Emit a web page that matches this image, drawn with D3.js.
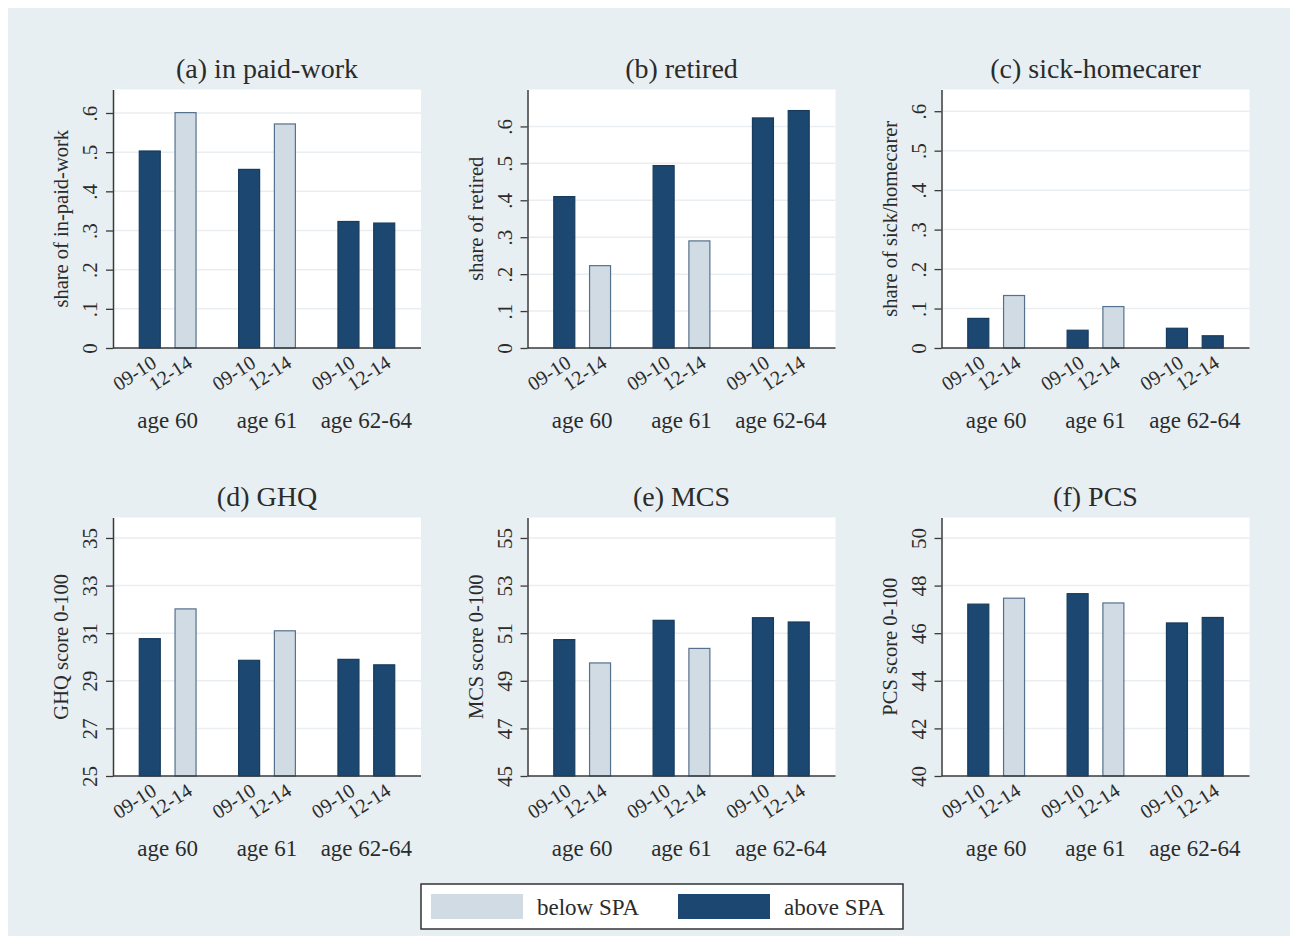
<!DOCTYPE html>
<html>
<head>
<meta charset="utf-8">
<script src="https://cdn.jsdelivr.net/npm/d3@7"></script>
<style>
  body { margin: 0; background: #fff; }
  svg { display: block; }
  text { font-family: "Liberation Serif", "Times New Roman", serif; fill: #2b2b2b; }
</style>
</head>
<body>
<div id="chart"></div>
<script>
// categories
const ages = ["age 60", "age 61", "age 62-64"];
const periods = ["09-10", "12-14"];
// which bars are below / above state pension age
const spaStatus = [["above", "below"], ["above", "below"], ["above", "above"]];

// values, [age][period]
const paidWork = [[0.503, 0.601], [0.456, 0.572], [0.323, 0.319]];
const retired  = [[0.410, 0.223], [0.494, 0.290], [0.623, 0.643]];
const sickCare = [[0.075, 0.133], [0.045, 0.105], [0.050, 0.031]];
const ghq = [[30.77, 32.02], [29.86, 31.10], [29.90, 29.67]];
const mcs = [[50.73, 49.75], [51.54, 50.36], [51.65, 51.47]];
const pcs = [[47.22, 47.47], [47.66, 47.27], [46.43, 46.66]];

const panelTitles = ["(a) in paid-work", "(b) retired", "(c) sick-homecarer", "(d) GHQ", "(e) MCS", "(f) PCS"];
const yTitles = ["share of in-paid-work", "share of retired", "share of sick/homecarer",
                 "GHQ score 0-100", "MCS score 0-100", "PCS score 0-100"];

// tick labels
const shareTicks = [0, 0.1, 0.2, 0.3, 0.4, 0.5, 0.6];
const ghqTicks = [25, 27, 29, 31, 33, 35];
const mcsTicks = [45, 47, 49, 51, 53, 55];
const pcsTicks = [40, 42, 44, 46, 48, 50];
const yMax = [0.66, 0.70, 0.655, 35.86, 55.86, 50.86];

const legendLabels = ["below SPA", "above SPA"];

const shareFmt = d => d === 0 ? "0" : d3.format(".1f")(d).replace(/^0/, "");
const intFmt = d3.format("d");

const panels = [
  {title: panelTitles[0], ylab: yTitles[0], vals: paidWork, ticks: shareTicks, max: yMax[0], fmt: shareFmt},
  {title: panelTitles[1], ylab: yTitles[1], vals: retired,  ticks: shareTicks, max: yMax[1], fmt: shareFmt},
  {title: panelTitles[2], ylab: yTitles[2], vals: sickCare, ticks: shareTicks, max: yMax[2], fmt: shareFmt},
  {title: panelTitles[3], ylab: yTitles[3], vals: ghq, ticks: ghqTicks, max: yMax[3], fmt: intFmt},
  {title: panelTitles[4], ylab: yTitles[4], vals: mcs, ticks: mcsTicks, max: yMax[4], fmt: intFmt},
  {title: panelTitles[5], ylab: yTitles[5], vals: pcs, ticks: pcsTicks, max: yMax[5], fmt: intFmt}
];

const W = 1290, H = 936;
const colLeft = [113, 527.5, 941.5];
const rowTop = [89.5, 517.5];
const pw = 308, ph = 258.5;

const fillColor = {above: "#1b4770", below: "#d1dbe4"};
const strokeColor = {above: "#173c5e", below: "#55718c"};
const axisColor = "#3a3a3a";

const svg = d3.select("#chart")
  .append("svg")
  .attr("width", W)
  .attr("height", H);

svg.append("rect")
  .attr("x", 8).attr("y", 8)
  .attr("width", W - 8).attr("height", H - 8)
  .attr("fill", "#e8eff2");

panels.forEach((p, i) => {
  const g = svg.append("g")
    .attr("transform", `translate(${colLeft[i % 3]},${rowTop[Math.floor(i / 3)]})`);

  const x0 = d3.scaleBand().domain(ages).range([5, 303]);
  const x1 = d3.scaleBand().domain(periods)
    .range([0, x0.bandwidth()])
    .paddingInner(0.413)
    .paddingOuter(0.595);
  const y = d3.scaleLinear().domain([p.ticks[0], p.max]).range([ph, 0]);

  // plot region
  g.append("rect")
    .attr("width", pw).attr("height", ph)
    .attr("fill", "#fff");

  g.selectAll(".grid")
    .data(p.ticks.slice(1))
    .enter()
    .append("line")
    .attr("x1", 0).attr("x2", pw)
    .attr("y1", d => y(d)).attr("y2", d => y(d))
    .attr("stroke", "#e9eef2")
    .attr("stroke-width", 1.5);

  // bars
  const rows = [];
  ages.forEach((a, ai) => periods.forEach((per, pi) => {
    rows.push({age: a, period: per, value: p.vals[ai][pi], status: spaStatus[ai][pi]});
  }));

  g.selectAll(".bar")
    .data(rows)
    .enter()
    .append("rect")
    .attr("x", d => x0(d.age) + x1(d.period))
    .attr("y", d => y(d.value))
    .attr("width", x1.bandwidth())
    .attr("height", d => ph - y(d.value))
    .attr("fill", d => fillColor[d.status])
    .attr("stroke", d => strokeColor[d.status])
    .attr("stroke-width", 1.2);

  // y axis
  const yAxis = g.append("g")
    .call(d3.axisLeft(y).tickValues(p.ticks).tickSize(7).tickSizeOuter(0).tickFormat(p.fmt));
  yAxis.select(".domain").attr("stroke", axisColor).attr("stroke-width", 1.5);
  yAxis.selectAll(".tick line").attr("stroke", axisColor).attr("stroke-width", 1.3);
  yAxis.selectAll(".tick text")
    .attr("x", 0).attr("dy", 0)
    .attr("text-anchor", "middle")
    .attr("transform", "translate(-16,0) rotate(-90)")
    .style("font-size", "21px")
    .style("font-family", "Liberation Serif, serif")
    .attr("fill", "#2b2b2b");

  // baseline
  g.append("line")
    .attr("x1", 0).attr("x2", pw)
    .attr("y1", ph).attr("y2", ph)
    .attr("stroke", axisColor)
    .attr("stroke-width", 1.5);

  // period tick labels
  g.selectAll(".xlab")
    .data(rows)
    .enter()
    .append("text")
    .attr("text-anchor", "end")
    .attr("transform", d => {
      const cx = x0(d.age) + x1(d.period) + x1.bandwidth() / 2;
      return `translate(${cx + 8},${ph + 18}) rotate(-33)`;
    })
    .style("font-size", "20px")
    .text(d => d.period);

  // age group labels
  g.selectAll(".glab")
    .data(ages)
    .enter()
    .append("text")
    .attr("x", d => x0(d) + x0.bandwidth() / 2)
    .attr("y", ph + 80)
    .attr("text-anchor", "middle")
    .style("font-size", "23px")
    .text(d => d);

  // y title
  g.append("text")
    .attr("transform", `translate(-45,${ph / 2}) rotate(-90)`)
    .attr("text-anchor", "middle")
    .style("font-size", "20.5px")
    .text(p.ylab);

  // panel title
  g.append("text")
    .attr("x", pw / 2)
    .attr("y", -12)
    .attr("text-anchor", "middle")
    .style("font-size", "28px")
    .text(p.title);
});

// legend
const lg = svg.append("g").attr("transform", "translate(421,884)");
lg.append("rect")
  .attr("width", 482).attr("height", 45)
  .attr("fill", "#fff")
  .attr("stroke", "#333")
  .attr("stroke-width", 1.5);

const legendX = d3.scaleOrdinal().domain(legendLabels).range([10, 257]);
const legendStatus = {"below SPA": "below", "above SPA": "above"};

lg.selectAll(".sw")
  .data(legendLabels)
  .enter()
  .append("rect")
  .attr("x", d => legendX(d))
  .attr("y", 10)
  .attr("width", 92).attr("height", 25)
  .attr("fill", d => fillColor[legendStatus[d]]);

lg.selectAll(".lt")
  .data(legendLabels)
  .enter()
  .append("text")
  .attr("x", d => legendX(d) + 106)
  .attr("y", 31)
  .style("font-size", "23px")
  .text(d => d);
</script>
</body>
</html>
